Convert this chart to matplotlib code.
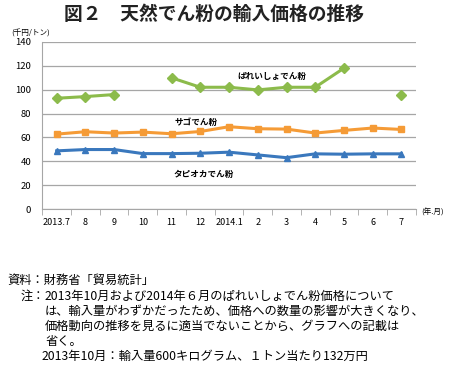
import matplotlib
matplotlib.use("Agg")
import matplotlib.pyplot as plt
import numpy as np

plt.rcParams['font.family'] = ['Noto Sans CJK JP', 'DejaVu Sans']

months = ["2013.7", "8", "9", "10", "11", "12", "2014.1", "2", "3", "4", "5", "6", "7"]
potato = [92.8, 94.2, 95.9, np.nan, 109.9, 102, 102, 99.8, 102, 102, 118, np.nan, 95.6]
sago = [62.8, 64.8, 63.7, 64.5, 63.1, 65, 69, 67.3, 67, 63.7, 65.9, 67.9, 66.7]
tapioca = [48.8, 49.9, 49.9, 46.5, 46.5, 46.8, 47.7, 45.4, 43.1, 46.3, 46, 46.3, 46.3]

fig = plt.figure(figsize=(4.5, 3.67), dpi=100)
ax = fig.add_axes([0.094, 0.43, 0.83, 0.456])

x = np.arange(len(months))
ax.plot(x, potato, color='#8CBB4B', marker='D', markersize=4.8, linewidth=2.2, zorder=3)
ax.plot(x, sago, color='#F59B36', marker='s', markersize=4.8, linewidth=2.2, zorder=3)
ax.plot(x, tapioca, color='#3A78BD', marker='^', markersize=5, linewidth=2.2, zorder=3)

ax.set_xlim(-0.5, len(months) - 0.5)
ax.set_ylim(0, 140)
ax.set_yticks(range(0, 141, 20))
ax.yaxis.grid(True, color='#A6A6A6', linewidth=0.9)
ax.set_axisbelow(True)
ax.set_xticks(x)
ax.set_xticklabels(months, fontsize=6.5)
ax.set_xticks(np.arange(-0.5, len(months)), minor=True)
ax.tick_params(axis='x', which='major', length=0, pad=6)
ax.tick_params(axis='x', which='minor', length=4, color='#A6A6A6', direction='out')
ax.tick_params(axis='y', length=0, labelsize=6.8, pad=8)
for s in ['top', 'right']:
    ax.spines[s].set_visible(False)
for s in ['left', 'bottom']:
    ax.spines[s].set_color('#A6A6A6')

ax.text(7.5, 111, "ぱれいしょでん粉", fontsize=6.2, fontweight='bold', ha='center', va='center')
ax.text(4.86, 72.6, "サゴでん粉", fontsize=6.2, fontweight='bold', ha='center', va='center')
ax.text(5.1, 29.2, "タピオカでん粉", fontsize=6.2, fontweight='bold', ha='center', va='center')

fig.text(0.475, 0.96, "図２　天然でん粉の輸入価格の推移", fontsize=13.5, fontweight='bold',
         ha='center', va='center', color='#222222')
fig.text(0.025, 0.908, "(千円/トン)", fontsize=5.5, ha='left', va='center')
fig.text(0.935, 0.42, "(年.月)", fontsize=5.5, ha='left', va='center')

notes_y = 0.235
step = 0.0414
fs = 8.8
fig.text(0.016, notes_y, "資料：財務省「貿易統計」", fontsize=fs, ha='left', va='center')
fig.text(0.046, notes_y - step, "注：", fontsize=fs, ha='left', va='center')
lines = ["2013年10月および2014年６月のぱれいしょでん粉価格について",
         "は、輸入量がわずかだったため、価格への数量の影響が大きくなり、",
         "価格動向の推移を見るに適当でないことから、グラフへの記載は",
         "省く。"]
for i, t in enumerate(lines):
    fig.text(0.1, notes_y - step * (i + 1), t, fontsize=fs, ha='left', va='center')
fig.text(0.093, notes_y - step * 5, "2013年10月：輸入量600キログラム、１トン当たり132万円",
         fontsize=fs, ha='left', va='center')

fig.savefig("out.png", dpi=100)
